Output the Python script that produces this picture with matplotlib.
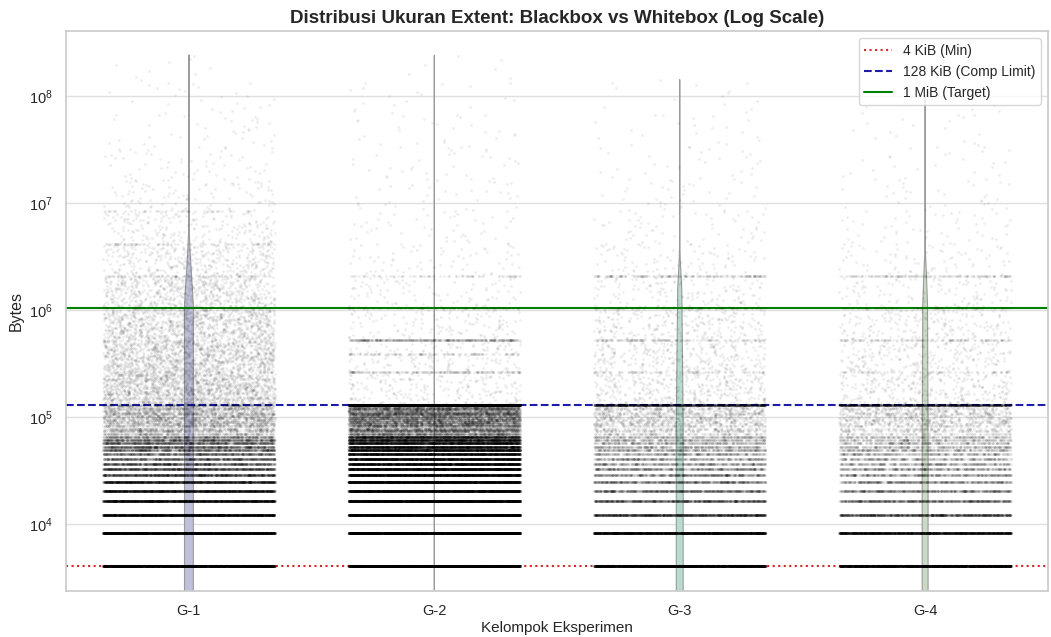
import numpy as np
import pandas as pd
import matplotlib
matplotlib.use("Agg")
import matplotlib.pyplot as plt
import seaborn as sns

KIB = 1024
MIB = 1024 * 1024

groups = ["G-1", "G-2", "G-3", "G-4"]

# extent sizes from 4 KiB to 128 KiB, in 4 KiB steps
small_kib = [4, 8, 12, 16, 20, 24, 28, 32, 36, 40, 44, 48, 52, 56, 60, 64,
             68, 72, 76, 80, 84, 88, 92, 96, 100, 104, 108, 112, 116, 120, 124, 128]
small_counts = {
    "G-1": [4200, 3800, 3000, 2600, 2200, 1900, 1300, 1200, 1000, 900, 800, 800, 900, 900, 800, 600,
            260, 250, 240, 230, 220, 210, 200, 200, 190, 180, 170, 170, 160, 160, 150, 200],
    "G-2": [5000, 4500, 4000, 4000, 3500, 3500, 3200, 3200, 2800, 2800, 2600, 2600, 2400, 2400, 2200, 2000,
            700, 700, 650, 650, 600, 600, 580, 580, 550, 550, 520, 520, 500, 500, 500, 5000],
    "G-3": [4000, 3200, 1500, 1000, 800, 700, 600, 550, 450, 420, 380, 380, 340, 320, 300, 300,
            130, 120, 120, 110, 110, 100, 100, 100, 90, 90, 90, 85, 85, 80, 80, 1400],
    "G-4": [3800, 2600, 1200, 800, 650, 550, 480, 430, 370, 340, 320, 300, 280, 260, 240, 240,
            100, 95, 95, 90, 90, 85, 85, 80, 80, 75, 75, 70, 70, 70, 70, 1300],
}

# larger extents that show up as their own rows
large_kib = [256, 384, 512, 1024, 2048, 4096, 8192]
large_counts = {
    "G-1": [0, 0, 0, 0, 70, 60, 40],
    "G-2": [180, 110, 400, 70, 70, 0, 0],
    "G-3": [70, 0, 130, 70, 170, 0, 0],
    "G-4": [60, 0, 120, 60, 140, 0, 0],
}

# everything else above 128 KiB, counted per octave (MiB edges)
octave_mib = [0.125, 0.25, 0.5, 1, 2, 4, 8, 16, 32, 64, 128]
max_mib = {"G-1": 229, "G-2": 229, "G-3": 134, "G-4": 95}
octave_counts = {
    "G-1": [1700, 1350, 1050, 680, 380, 200, 95, 55, 35, 25, 10],
    "G-2": [220, 170, 135, 95, 65, 45, 35, 30, 25, 18, 7],
    "G-3": [380, 310, 250, 140, 90, 55, 36, 27, 20, 13, 2],
    "G-4": [310, 250, 200, 120, 75, 48, 32, 23, 16, 10, 0],
}

violin_width = [0.036, 0.008, 0.028, 0.024]
violin_bw = [3.5, 1.0, 3.0, 4.0]
violin_color = ["#bfc0d9", "#bdbdbd", "#b9dccf", "#cadac4"]


def extent_sizes(g):
    parts = [np.repeat(np.array(small_kib) * KIB, small_counts[g]),
             np.repeat(np.array(large_kib) * KIB, large_counts[g])]
    edges = octave_mib + [max_mib[g]]
    for i, n in enumerate(octave_counts[g]):
        lo, hi = edges[i] * MIB, min(edges[i + 1], max_mib[g]) * MIB
        if n == 0 or hi <= lo:
            continue
        v = np.geomspace(lo, hi, n)
        parts.append(np.round(v / (4 * KIB)) * 4 * KIB)
    return np.concatenate(parts)


frames = [pd.DataFrame({"Kelompok": g, "Bytes": extent_sizes(g)}) for g in groups]
df = pd.concat(frames, ignore_index=True)

sns.set_theme(style="whitegrid")
plt.rcParams["font.family"] = ["Liberation Sans", "DejaVu Sans"]

fig, ax = plt.subplots(figsize=(10.51, 6.37), dpi=100)
fig.subplots_adjust(left=0.063, right=0.997, top=0.951, bottom=0.072)

# violins are computed on linear bytes, the log scale is applied afterwards
for i, g in enumerate(groups):
    sub = df[df["Kelompok"] == g]
    sns.violinplot(data=sub, x="Kelompok", y="Bytes", order=groups, ax=ax,
                   width=violin_width[i], bw_adjust=violin_bw[i],
                   color=violin_color[i], saturation=1, inner=None,
                   density_norm="width", linewidth=0.8, linecolor="#9a9a9a")
for c in ax.collections:
    c.set_zorder(1.5)

sns.stripplot(data=df, x="Kelompok", y="Bytes", order=groups, ax=ax,
              jitter=0.35, size=2, color="black", alpha=0.07, linewidth=0, zorder=3)

ax.axhline(4 * KIB, color="#d62728", linestyle=":", linewidth=1.5, label="4 KiB (Min)", zorder=2)
ax.axhline(128 * KIB, color="#1c1ca8", linestyle="--", linewidth=1.5, label="128 KiB (Comp Limit)", zorder=2)
ax.axhline(1 * MIB, color="green", linestyle="-", linewidth=1.5, label="1 MiB (Target)", zorder=2)

ax.set_yscale("log")
ax.set_ylim(2370, 4.05e8)
ax.set_xlim(-0.5, 3.5)
ax.grid(axis="x", visible=False)
ax.grid(axis="y", which="major", color="#e0e0e0", linewidth=1)

ax.set_title("Distribusi Ukuran Extent: Blackbox vs Whitebox (Log Scale)",
             fontsize=13.5, fontweight="bold", pad=6)
ax.set_xlabel("Kelompok Eksperimen", fontsize=11, labelpad=2)
ax.set_ylabel("Bytes", fontsize=11.5)
ax.tick_params(axis="both", labelsize=10.5)
ax.legend(loc="upper right", fontsize=10)

plt.savefig("out.png", dpi=100)
